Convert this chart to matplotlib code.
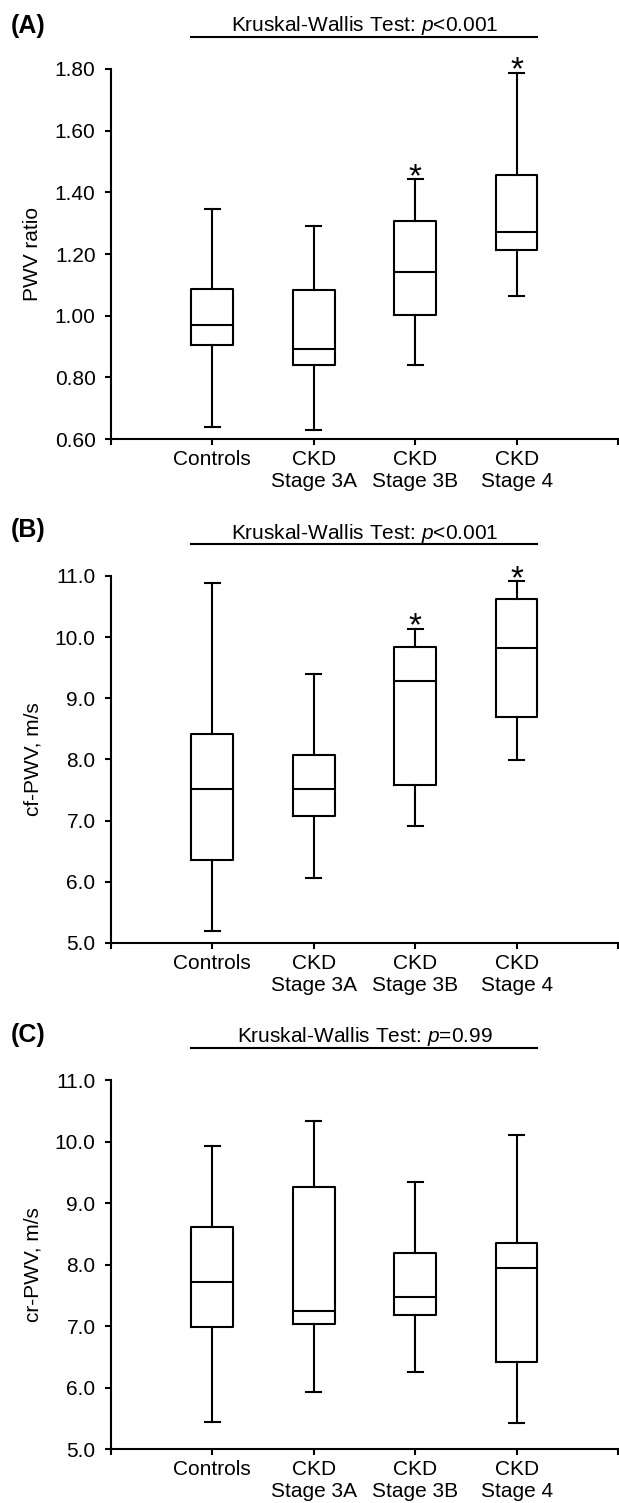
import matplotlib
matplotlib.use("Agg")
import matplotlib.pyplot as plt

plt.rcParams['font.family'] = ['Liberation Sans', 'DejaVu Sans']
plt.rcParams['mathtext.fontset'] = 'custom'
plt.rcParams['mathtext.rm'] = 'Liberation Sans'
plt.rcParams['mathtext.it'] = 'Liberation Sans:italic'

# Groups on the x axis
groups = ['Controls', 'CKD\nStage 3A', 'CKD\nStage 3B', 'CKD\nStage 4']

# Panel A: PWV ratio (low whisker, Q1, median, Q3, high whisker)
a_low = [0.639, 0.628, 0.840, 1.063]
a_q1 = [0.905, 0.839, 1.001, 1.214]
a_med = [0.969, 0.892, 1.142, 1.270]
a_q3 = [1.086, 1.082, 1.308, 1.456]
a_high = [1.346, 1.292, 1.443, 1.788]
a_ticks = [0.60, 0.80, 1.00, 1.20, 1.40, 1.60, 1.80]
a_ticklabels = ['0.60', '0.80', '1.00', '1.20', '1.40', '1.60', '1.80']

# Panel B: cf-PWV, m/s
b_low = [5.20, 6.06, 6.91, 7.99]
b_q1 = [6.36, 7.07, 7.59, 8.69]
b_med = [7.51, 7.52, 9.29, 9.83]
b_q3 = [8.42, 8.07, 9.84, 10.62]
b_high = [10.89, 9.39, 10.14, 10.92]

# Panel C: cr-PWV, m/s
c_low = [5.44, 5.93, 6.26, 5.42]
c_q1 = [6.99, 7.03, 7.18, 6.42]
c_med = [7.71, 7.24, 7.47, 7.94]
c_q3 = [8.61, 9.26, 8.19, 8.35]
c_high = [9.93, 10.34, 9.34, 10.10]

bc_ticks = [5.0, 6.0, 7.0, 8.0, 9.0, 10.0, 11.0]
bc_ticklabels = ['5.0', '6.0', '7.0', '8.0', '9.0', '10.0', '11.0']

panels = [
    ('(A)', 'PWV ratio', 'Kruskal-Wallis Test: $\\mathit{p}$<0.001',
     a_low, a_q1, a_med, a_q3, a_high, a_ticks, a_ticklabels, [2, 3]),
    ('(B)', 'cf-PWV, m/s', 'Kruskal-Wallis Test: $\\mathit{p}$<0.001',
     b_low, b_q1, b_med, b_q3, b_high, bc_ticks, bc_ticklabels, [2, 3]),
    ('(C)', 'cr-PWV, m/s', 'Kruskal-Wallis Test: $\\mathit{p}$=0.99',
     c_low, c_q1, c_med, c_q3, c_high, bc_ticks, bc_ticklabels, []),
]

# axes rectangles in figure fractions (left, bottom, width, height)
rects = [
    [0.179, 0.7079, 0.8195, 0.2462],
    [0.179, 0.3726, 0.8195, 0.2442],
    [0.179, 0.0359, 0.8195, 0.2455],
]
letter_y = [1 - 26 / 1503, 1 - 530 / 1503, 1 - 1035 / 1503]

fig = plt.figure(figsize=(6.19, 15.03), dpi=100)
lw = 1.5
box_w = 0.41
positions = [1, 2, 3, 4]

for (letter, ylab, title, lo, q1, med, q3, hi, ticks, ticklabels, stars), rect, ly in zip(panels, rects, letter_y):
    ax = fig.add_axes(rect)
    stats = []
    for i in range(len(groups)):
        stats.append({'whislo': lo[i], 'q1': q1[i], 'med': med[i],
                      'q3': q3[i], 'whishi': hi[i], 'fliers': []})
    ax.bxp(stats, positions=positions, widths=box_w, capwidths=0.15,
           showfliers=False, patch_artist=False,
           boxprops=dict(color='black', linewidth=lw),
           medianprops=dict(color='black', linewidth=lw),
           whiskerprops=dict(color='black', linewidth=lw),
           capprops=dict(color='black', linewidth=lw))

    ax.set_xlim(0, 5)
    ax.set_ylim(ticks[0], ticks[-1])
    ax.set_xticks([0, 1, 2, 3, 4, 5])
    ax.set_xticklabels([''] + groups + [''], fontsize=15)
    ax.set_yticks(ticks)
    ax.set_yticklabels(ticklabels, fontsize=15)
    ax.tick_params(axis='y', direction='out', length=4, width=lw, pad=7)
    ax.tick_params(axis='x', direction='out', length=4, width=lw, pad=4)
    for s in ['top', 'right']:
        ax.spines[s].set_visible(False)
    for s in ['left', 'bottom']:
        ax.spines[s].set_linewidth(lw)
    ax.set_ylabel(ylab, fontsize=15)
    ax.yaxis.set_label_coords(-0.135, 0.5)

    # significance line and title above the boxes
    trans = ax.get_xaxis_transform()
    ax.plot([1 - box_w / 2, 4 + box_w / 2], [1.086, 1.086], color='black',
            linewidth=lw, transform=trans, clip_on=False)
    ax.text(2.5, 1.102, title, transform=trans, ha='center', va='baseline',
            fontsize=15)

    for k in stars:
        ax.annotate('*', xy=(positions[k], hi[k]), xytext=(0, -7),
                    textcoords='offset pixels', ha='center', va='baseline',
                    fontsize=24, annotation_clip=False)

    fig.text(0.018, ly, letter, fontsize=18, fontweight='bold',
             ha='left', va='center')

fig.savefig('out.png', dpi=100)
